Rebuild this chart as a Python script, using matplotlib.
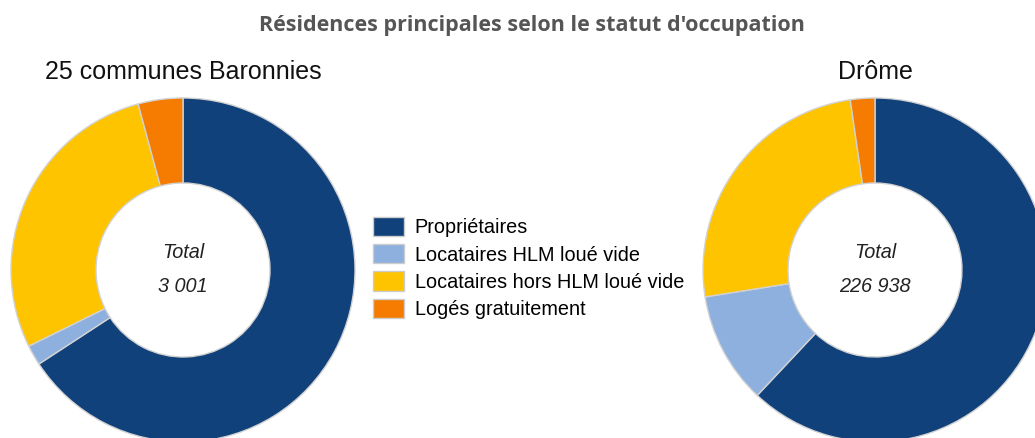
import matplotlib
matplotlib.use('Agg')
import matplotlib.pyplot as plt
from matplotlib.patches import Patch

# data (parts in %)
statuts = ['Propriétaires', 'Locataires HLM loué vide',
           'Locataires hors HLM loué vide', 'Logés gratuitement']
couleurs = ['#11417a', '#8eb0de', '#ffc400', '#f57c00']

baronnies_pct = [65.8, 1.9, 28.1, 4.2]
drome_pct = [62.0, 10.5, 25.2, 2.3]
totaux = ['3 001', '226 938']
zones = ['25 communes Baronnies', 'Drôme']

W, H = 1035, 438
fig = plt.figure(figsize=(W / 100, H / 100), dpi=100)
ax = fig.add_axes([0, 0, 1, 1])

R, r = 172, 87
centres_x = [183, 875]
cy = H - 270

for vals, cx, tot, zone in zip([baronnies_pct, drome_pct], centres_x, totaux, zones):
    ax.pie(vals, colors=couleurs, startangle=90, counterclock=False,
           center=(cx, cy), radius=R,
           wedgeprops=dict(width=R - r, edgecolor='#d2d2d2', linewidth=1))
    ax.text(cx, H - 253, 'Total', ha='center', va='center', fontsize=14.3,
            style='italic', family='Liberation Sans', color='#222222')
    ax.text(cx, H - 286, tot, ha='center', va='center', fontsize=14.3,
            style='italic', family='Liberation Sans', color='#222222')
    ax.text(cx, H - 72, zone, ha='center', va='center', fontsize=18,
            family='Liberation Sans', color='#111111')

ax.set_xlim(0, W)
ax.set_ylim(0, H)
ax.axis('off')

fig.text(532 / W, 1 - 25 / H, "Résidences principales selon le statut d'occupation",
         ha='center', va='center', fontsize=15.5, fontweight='bold',
         family='Open Sans', color='#555555')

handles = [Patch(facecolor=c, edgecolor='#cccccc', linewidth=1) for c in couleurs]
ax.legend(handles, statuts, loc='upper left', bbox_to_anchor=(373 / W, 1 - 217 / H),
          bbox_transform=fig.transFigure, frameon=False, borderpad=0, borderaxespad=0,
          handlelength=1.55, handleheight=1.1, handletextpad=0.55, labelspacing=0.35,
          prop={'family': 'Liberation Sans', 'size': 14.3})

fig.savefig('out.png', dpi=100)
